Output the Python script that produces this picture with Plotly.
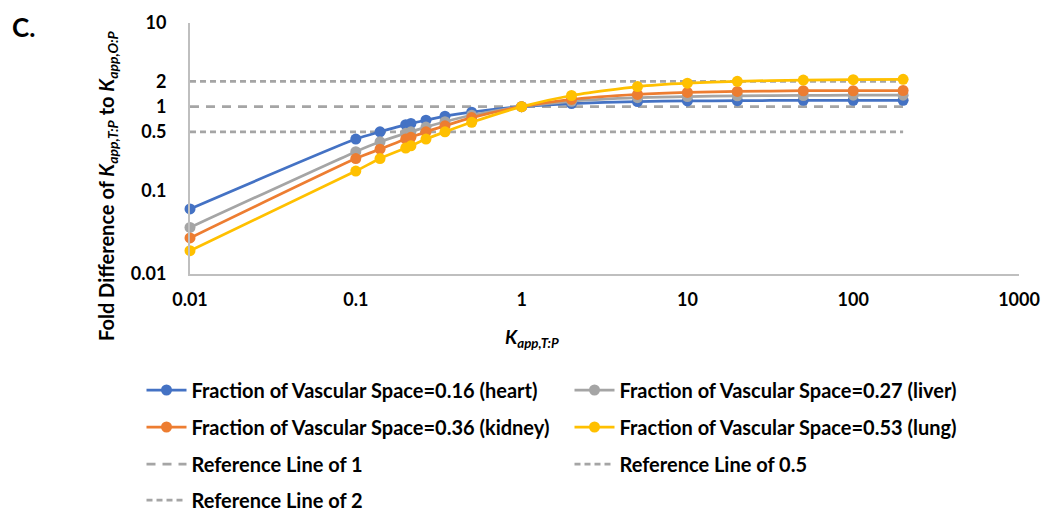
import plotly.graph_objects as go

k_values = [0.01, 0.1, 0.14, 0.2, 0.215, 0.265, 0.345, 0.5, 1, 2, 5, 10, 20, 50, 100, 200]

heart = [0.06, 0.41, 0.50, 0.61, 0.63, 0.69, 0.77, 0.86, 1.0, 1.09, 1.15, 1.17, 1.18, 1.19, 1.19, 1.19]
liver = [0.036, 0.29, 0.38, 0.48, 0.50, 0.57, 0.66, 0.79, 1.0, 1.16, 1.28, 1.32, 1.35, 1.36, 1.37, 1.37]
kidney = [0.027, 0.24, 0.31, 0.41, 0.43, 0.50, 0.59, 0.74, 1.0, 1.22, 1.40, 1.48, 1.52, 1.55, 1.55, 1.56]
lung = [0.019, 0.17, 0.24, 0.32, 0.34, 0.41, 0.50, 0.65, 1.0, 1.36, 1.74, 1.91, 2.01, 2.08, 2.10, 2.12]

ref_x = [0.01, 200]
ref_1 = [1, 1]
ref_05 = [0.5, 0.5]
ref_2 = [2, 2]

series_names = [
    "Fraction of Vascular Space=0.16 (heart)",
    "Fraction of Vascular Space=0.27 (liver)",
    "Fraction of Vascular Space=0.36 (kidney)",
    "Fraction of Vascular Space=0.53 (lung)",
]
series_colors = ["#4472C4", "#A5A5A5", "#ED7D31", "#FFC000"]
series_values = [heart, liver, kidney, lung]
series_legends = ["legend", "legend", "legend2", "legend2"]

y_ticks = [0.01, 0.1, 0.5, 1, 2, 10]
y_tick_text = ["0.01", "0.1", "0.5", "1", "2", "10"]
x_ticks = [0.01, 0.1, 1, 10, 100, 1000]
x_tick_text = ["0.01", "0.1", "1", "10", "100", "1000"]

FONT = "Lato"
REF_COLOR = "#A5A5A5"

fig = go.Figure()

# reference lines (drawn underneath)
fig.add_trace(go.Scatter(x=ref_x, y=ref_1, mode="lines", name="Reference Line of 1",
                         line=dict(color=REF_COLOR, width=2.75, dash="9px,7px"),
                         legend="legend3"))
fig.add_trace(go.Scatter(x=ref_x, y=ref_05, mode="lines", name="Reference Line of 0.5",
                         line=dict(color=REF_COLOR, width=2.75, dash="6px,4px"),
                         legend="legend3"))
fig.add_trace(go.Scatter(x=ref_x, y=ref_2, mode="lines", name="Reference Line of 2",
                         line=dict(color=REF_COLOR, width=2.75, dash="6px,4px"),
                         legend="legend4"))

for name, color, vals, lg in zip(series_names, series_colors, series_values, series_legends):
    fig.add_trace(go.Scatter(x=k_values, y=vals, mode="lines+markers", name=name,
                             line=dict(color=color, width=2.75, shape="spline", smoothing=0.6),
                             marker=dict(color=color, size=11),
                             cliponaxis=False, legend=lg))

legend_common = dict(orientation="h", xanchor="left", yanchor="middle",
                     font=dict(family=FONT, size=20, color="#000000", weight="bold"),
                     bgcolor="rgba(0,0,0,0)", entrywidth=373, itemwidth=40,
                     traceorder="normal")

LEG_X = (141.5 - 190) / 829


def row_y(ypix):
    return (274 - ypix) / 251


fig.update_layout(
    width=1044, height=514,
    margin=dict(l=190, r=25, t=23, b=240, autoexpand=False),
    paper_bgcolor="white", plot_bgcolor="white",
    font=dict(family=FONT, size=18, color="#000000"),
    xaxis=dict(type="log", range=[-2, 3], tickvals=x_ticks, ticktext=x_tick_text,
               showgrid=False, zeroline=False, showline=True, linecolor="#BFBFBF", linewidth=2,
               ticks="", tickfont=dict(family=FONT, size=18, color="#000000", weight="bold"),
               ticklabelstandoff=8),
    yaxis=dict(type="log", range=[-2, 1], tickvals=y_ticks, ticktext=y_tick_text,
               showgrid=False, zeroline=False, showline=True, linecolor="#BFBFBF", linewidth=2,
               ticks="", tickfont=dict(family=FONT, size=18, color="#000000", weight="bold"),
               ticklabelstandoff=18),
    legend=dict(x=LEG_X, y=row_y(390), **legend_common),
    legend2=dict(x=LEG_X, y=row_y(427), **legend_common),
    legend3=dict(x=LEG_X, y=row_y(464), **legend_common),
    legend4=dict(x=LEG_X, y=row_y(500), **legend_common),
    showlegend=True,
)

fig.add_annotation(text="<b>C.</b>", xref="paper", yref="paper", x=(10 - 190) / 829, y=row_y(27),
                   xanchor="left", yanchor="middle", showarrow=False,
                   font=dict(family=FONT, size=26, color="#000000"))
fig.add_annotation(text="<b><i>K</i><sub><i>app,T:P</i></sub></b>", xref="paper", yref="paper",
                   x=(532 - 190) / 829, y=row_y(338), xanchor="center", yanchor="middle",
                   showarrow=False, font=dict(family=FONT, size=19, color="#000000"))
fig.add_annotation(text="<b>Fold Difference of <i>K</i><sub><i>app,T:P</i></sub> to <i>K</i><sub><i>app,O:P</i></sub></b>",
                   xref="paper", yref="paper", x=(107 - 190) / 829, y=row_y(186),
                   xanchor="center", yanchor="middle", textangle=-90,
                   showarrow=False, font=dict(family=FONT, size=20, color="#000000"))

fig.write_html("out.html")
